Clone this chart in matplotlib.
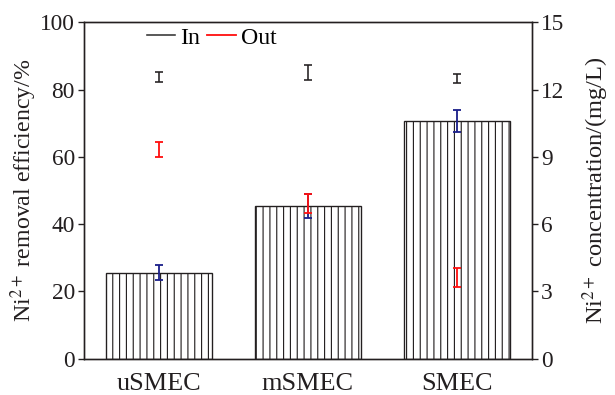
import numpy as np
import matplotlib
matplotlib.use("Agg")
import matplotlib.pyplot as plt
from matplotlib.lines import Line2D

plt.rcParams['font.family'] = ['Liberation Serif', 'DejaVu Serif']
plt.rcParams['mathtext.fontset'] = 'stix'
plt.rcParams['hatch.linewidth'] = 1.0

# data
groups = ['uSMEC', 'mSMEC', 'SMEC']
removal = [25.5, 45.4, 70.7]
removal_err = [2.2, 3.5, 3.3]
conc_in = [12.55, 12.77, 12.49]
conc_in_err = [0.22, 0.33, 0.21]
conc_out = [9.34, 6.92, 3.62]
conc_out_err = [0.33, 0.42, 0.41]

dark = '#231f20'
navy = '#1b1f8a'
red = '#ff1010'

fig = plt.figure(figsize=(615/82, 395/82), dpi=82)
ax1 = fig.add_axes([0.1366, 0.0924, 0.728, 0.851])
ax2 = ax1.twinx()

x = np.arange(len(groups))
ax1.bar(x, removal, width=0.71, color='white', edgecolor=dark,
        hatch='||', linewidth=1.2)
ax1.errorbar(x, removal, yerr=removal_err, fmt='none', ecolor=navy,
             elinewidth=1.6, capsize=3.6, capthick=1.6)

ax2.errorbar(x, conc_in, yerr=conc_in_err, fmt='none', ecolor=dark,
             elinewidth=1.4, capsize=3.6, capthick=1.4)
ax2.errorbar(x, conc_out, yerr=conc_out_err, fmt='none', ecolor=red,
             elinewidth=1.6, capsize=3.4, capthick=1.6)

ax1.set_xlim(-0.5, 2.5)
ax1.set_ylim(0, 100)
ax2.set_ylim(0, 15)
ax1.set_yticks(np.arange(0, 101, 20))
ax2.set_yticks(np.arange(0, 16, 3))
ax1.set_xticks(x)
ax1.set_xticklabels(groups)

fs = 20.5
ax1.tick_params(axis='x', length=0, labelsize=23, colors=dark, pad=13)
ax1.tick_params(axis='y', direction='out', length=5, width=1.2,
                labelsize=fs, colors=dark, pad=3)
ax2.tick_params(axis='y', direction='out', length=5, width=1.2,
                labelsize=fs, colors=dark, pad=3)
for ax in (ax1, ax2):
    for s in ax.spines.values():
        s.set_linewidth(1.2)
        s.set_color(dark)

ax1.set_ylabel('Ni$^{\\mathrm{2+}}$ removal efficiency/%', fontsize=21,
               color=dark, labelpad=1)
ax2.set_ylabel('Ni$^{\\mathrm{2+}}$ concentration/(mg/L)', fontsize=21.5,
               color=dark, labelpad=14)

handles = [Line2D([], [], color='#333333', lw=1.4),
           Line2D([], [], color=red, lw=1.6)]
ax2.legend(handles, ['In', 'Out'], loc='center', bbox_to_anchor=(0.285, 0.954),
           ncol=2, frameon=False, fontsize=21, handlelength=1.2,
           handletextpad=0.2, columnspacing=0.3, borderpad=0)

fig.savefig('out.png', dpi=82)
